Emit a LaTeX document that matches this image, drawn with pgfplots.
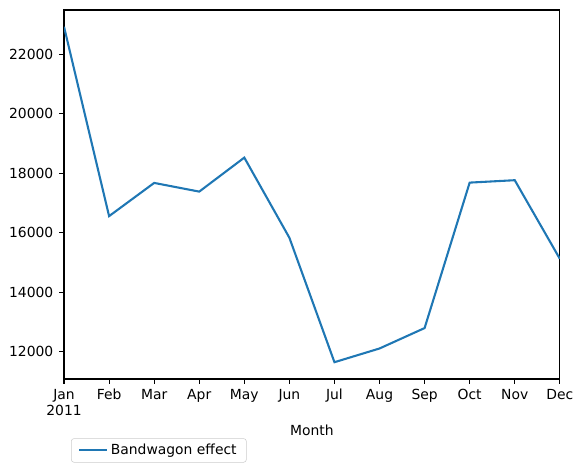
\documentclass[border=0pt]{standalone}
\usepackage{pgfplots}
\pgfplotsset{compat=1.18}
\usepackage{fontspec}
\setmainfont{DejaVu Sans}
\definecolor{mplblue}{HTML}{1F77B4}
\definecolor{legframe}{HTML}{CCCCCC}

\pgfplotstableread{
idx value
0  22920
1  16558
2  17674
3  17382
4  18524
5  15832
6  11650
7  12111
8  12797
9  17684
10 17765
11 15126
}\bandwagon

\begin{document}
\fontsize{10bp}{12bp}\selectfont
\begin{tikzpicture}
% page = 583x473 px, 1 px = 0.72 bp
\path[use as bounding box] (-46.1bp,-67.7bp) rectangle (373.7bp,272.9bp);
\begin{axis}[
    at={(0,0)}, anchor=south west,
    scale only axis,
    width=357bp, height=265.7bp,
    xmin=0, xmax=11,
    ymin=11086, ymax=23484,
    xtick={0,...,11},
    xticklabels={Jan\\2011,Feb,Mar,Apr,May,Jun,Jul,Aug,Sep,Oct,Nov,Dec},
    ytick={12000,14000,...,22000},
    scaled y ticks=false,
    minor tick num=0,
    tick align=outside,
    tick pos=left,
    major tick length=3.5bp,
    every tick/.style={black, line width=0.8bp},
    axis line style={line width=0.8bp},
    /pgf/number format/assume math mode=true,
    /pgf/number format/set thousands separator={},
    /pgf/number format/fixed,
    x tick label style={font=\fontsize{10bp}{12bp}\selectfont, align=center, inner sep=0pt, anchor=north, yshift=-3.5bp},
    y tick label style={font=\fontsize{10bp}{12bp}\selectfont, inner sep=0pt, anchor=east, xshift=-4bp},
    xlabel={Month},
    xlabel style={font=\fontsize{10bp}{12bp}\selectfont, at={(axis description cs:0.5,0)}, anchor=center, yshift=-37bp},
    legend style={
        at={(axis description cs:0.0141,-0.1607)}, anchor=north west,
        draw=legframe, rounded corners=2bp, fill=white,
        font=\fontsize{10bp}{12bp}\selectfont,
        inner xsep=5bp, inner ysep=2bp,
        legend cell align=left,
    },
    legend image code/.code={\draw[#1] (0bp,0bp) -- (20bp,0bp);},
]
\addplot[mplblue, line width=1.5bp] table[x=idx, y=value] {\bandwagon};
\addlegendentry{Bandwagon effect}
\end{axis}
\end{tikzpicture}
\end{document}
